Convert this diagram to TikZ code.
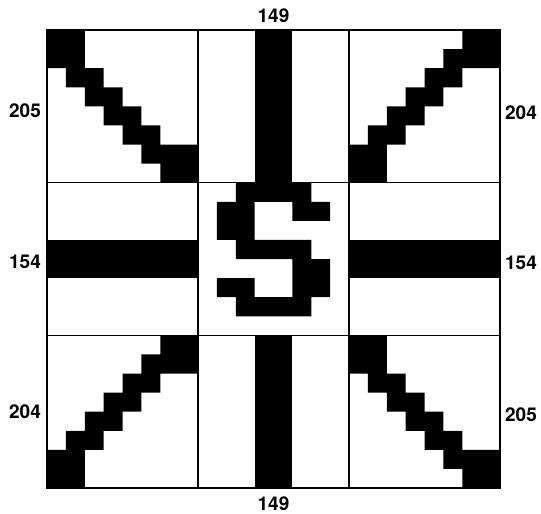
\documentclass[tikz,border=0pt]{standalone}
\usepackage{fontspec}
\setmainfont{TeX Gyre Heros}
\newcommand\cellat[3]{%
  \begin{scope}[shift={(47+151*#1,30+152.667*#2)}, x=18.875pt, y=-19.0833pt]
  #3
  \end{scope}}
\newcommand\patBack{\fill (0,0) rectangle (2,2) (1,2) rectangle (3,3) (2,3) rectangle (4,4) (3,4) rectangle (5,5) (4,5) rectangle (6,6) (5,6) rectangle (8,7) (6,7) rectangle (8,8);}
\newcommand\patFwd{\fill (6,0) rectangle (8,1) (5,1) rectangle (8,2) (4,2) rectangle (6,3) (3,3) rectangle (5,4) (2,4) rectangle (4,5) (1,5) rectangle (3,6) (0,6) rectangle (2,8);}
\newcommand\patVert{\fill (3,0) rectangle (5,8);}
\newcommand\patHorz{\fill (0,3) rectangle (8,5);}
\newcommand\patS{\fill (2,0) rectangle (6,1) (1,1) rectangle (3,3) (5,1) rectangle (7,2) (2,3) rectangle (6,4) (5,4) rectangle (7,6) (1,5) rectangle (3,6) (2,6) rectangle (6,7);}
\begin{document}
\begin{tikzpicture}[x=1pt,y=-1pt,
  lbl/.style={font=\fontsize{19}{19}\selectfont\bfseries, inner sep=0pt},
  outerline/.style={line width=2.4pt},
  innerline/.style={line width=1.3pt}]
\useasboundingbox (0,0) rectangle (541,514);
% cell patterns
\cellat{0}{0}{\patBack}
\cellat{1}{0}{\patVert}
\cellat{2}{0}{\patFwd}
\cellat{0}{1}{\patHorz}
\cellat{1}{1}{\patS}
\cellat{2}{1}{\patHorz}
\cellat{0}{2}{\patFwd}
\cellat{1}{2}{\patVert}
\cellat{2}{2}{\patBack}
% grid
\draw[innerline] (198,30)--(198,488) (349,30)--(349,488)
  (47,182.667)--(500,182.667) (47,335.333)--(500,335.333);
\draw[outerline] (47,30) rectangle (500,488);
% labels
\node[lbl] (ltop) at (273.5,16) {149};
\node[lbl] (lbot) at (273.5,504) {149};
\node[lbl] (l1) at (25,111) {205};
\node[lbl] (l2) at (25,262) {154};
\node[lbl] (l3) at (25,412) {204};
\node[lbl] (r1) at (521,113) {204};
\node[lbl] (r2) at (521,263) {154};
\node[lbl] (r3) at (521,415) {205};
\end{tikzpicture}
\end{document}
